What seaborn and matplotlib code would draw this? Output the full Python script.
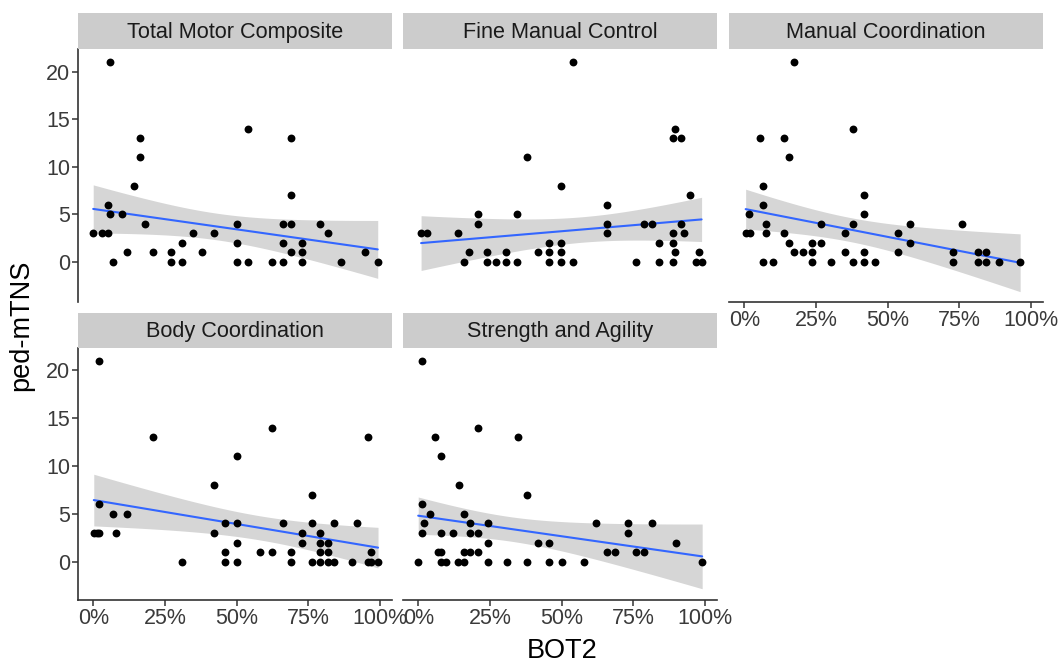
import numpy as np
import pandas as pd
import matplotlib
matplotlib.use("Agg")
import matplotlib.pyplot as plt
import seaborn as sns
from matplotlib.ticker import FuncFormatter

sns.set_theme(style="white")
plt.rcParams['font.family'] = ['Liberation Sans', 'DejaVu Sans']

panels = ["Total Motor Composite", "Fine Manual Control", "Manual Coordination",
          "Body Coordination", "Strength and Agility"]

tmc_x = [6.0, 0, 3.0, 5.1, 5, 5.9, 9.9, 7, 14.2, 16.2, 16.2, 11.7, 18, 20.9, 27.2, 27.2,
         30.9, 30.9, 34.8, 38.1, 42.1, 50.2, 50.2, 50.2, 54.1, 54.1, 62.2, 66, 66, 66,
         69, 69, 69, 69, 72.8, 72.8, 72.8, 79.2, 82, 86.3, 94.9, 99.2]
tmc_y = [21, 3, 3, 3, 6, 5, 5, 0, 8, 11, 13, 1, 4, 1, 1, 0,
         2, 0, 3, 1, 3, 4, 2, 0, 14, 0, 0, 4, 2, 0,
         13, 7, 4, 1, 2, 1, 0, 4, 3, 0, 1, 0]

fmc_x = [1, 3.1, 14, 15.9, 17.8, 20.7, 20.7, 24.1, 24.1, 27, 30.7, 30.7, 34.5, 34.5,
         37.9, 41.8, 45.7, 45.7, 45.7, 49.9, 49.9, 49.9, 49.9, 53.8, 53.8, 65.8, 65.8,
         65.8, 75.8, 78.7, 81.6, 84, 84, 88.8, 88.8, 88.8, 88.8, 89.7, 89.7, 91.7, 91.7,
         92.6, 94.6, 97.9, 97, 98.8]
fmc_y = [3, 3, 3, 0, 1, 5, 4, 1, 0, 0, 1, 0, 5, 0,
         11, 1, 2, 1, 0, 8, 2, 1, 0, 21, 0, 6, 4,
         3, 0, 4, 4, 2, 0, 13, 3, 2, 0, 14, 1, 13, 4,
         3, 7, 1, 0, 0]

mc_x = [0.5, 1.9, 1.6, 5.6, 6.5, 6.5, 6.5, 7.5, 7.5, 9.9, 13.8, 13.8, 15.7, 15.7, 17.5,
        17.5, 20.4, 23.8, 23.8, 23.8, 26.8, 26.8, 30.4, 35, 35, 37.9, 37.9, 37.9, 41.7,
        41.7, 41.7, 41.7, 45.6, 53.6, 53.6, 57.7, 57.7, 72.8, 72.8, 75.9, 81.6, 81.6,
        84.3, 84.3, 88.9, 96.2]
mc_y = [3, 3, 5, 13, 8, 6, 0, 4, 3, 0, 13, 3, 11, 2, 21,
        1, 1, 2, 1, 0, 4, 2, 0, 3, 1, 14, 4, 0, 7,
        5, 1, 0, 0, 3, 1, 4, 2, 1, 0, 4, 1, 0,
        1, 0, 0, 0]

bc_x = [2.1, 0.2, 1.2, 2.1, 2.1, 7, 11.7, 7.9, 20.9, 30.9, 42.1, 42.1, 45.9, 45.9, 45.9,
        50.2, 50.2, 50.2, 50.2, 58, 62.3, 62.3, 66.2, 69.1, 69.1, 72.9, 72.9, 76.2, 76.2,
        76.2, 79.1, 79.1, 79.1, 79.1, 82, 82, 82, 83.8, 83.8, 90.1, 92.1, 95.9, 95.9,
        96.9, 96.9, 99.3]
bc_y = [21, 3, 3, 3, 6, 5, 5, 3, 13, 0, 8, 3, 4, 1, 0,
        11, 4, 2, 0, 1, 14, 1, 4, 1, 0, 3, 2, 7, 4,
        0, 3, 2, 1, 0, 2, 1, 0, 4, 0, 0, 4, 13, 0,
        1, 0, 0]

sa_x = [1.2, 0, 1.2, 1.2, 2.1, 4.1, 5.9, 7.9, 6.8, 7.9, 7.9, 7.9, 9.8, 12.3, 14.1, 13.9,
        16, 16, 16, 18, 18, 18, 20.9, 20.9, 20.9, 24.2, 24.2, 24.2, 30.9, 34.7, 38, 38,
        41.8, 45.5, 45.5, 50.1, 57.7, 61.9, 65.8, 68.7, 73, 73, 75.9, 78.8, 81.6, 89.8, 99]
sa_y = [21, 0, 6, 3, 4, 5, 13, 11, 1, 1, 3, 0, 0, 3, 8, 0,
        5, 1, 0, 4, 3, 1, 14, 3, 1, 4, 2, 0, 0, 13, 7, 0,
        2, 2, 0, 0, 0, 4, 1, 1, 4, 3, 1, 1, 4, 2, 0]

xs = [tmc_x, fmc_x, mc_x, bc_x, sa_x]
ys = [tmc_y, fmc_y, mc_y, bc_y, sa_y]

x_ticks = [0, 25, 50, 75, 100]
y_ticks = [0, 5, 10, 15, 20]

W, H = 1062, 663
fig = plt.figure(figsize=(W / 100, H / 100), dpi=100)

col_left = [78.3, 403.3, 729.3]
pw = 313.5
rows = [(13.3, 49.3, 301.7), (313.3, 348.3, 600.0)]
ylims = [(-4.17, 22.35), (-4.0, 22.3)]

line_col = "#3366FF"
tick_col = "#3A3A3A"
axis_col = "#333333"

for i, name in enumerate(panels):
    r, c = divmod(i, 3)
    st, pt, pb = rows[r]
    x0 = col_left[c]
    ax = fig.add_axes([x0 / W, 1 - pb / H, pw / W, (pb - pt) / H])
    sax = fig.add_axes([x0 / W, 1 - pt / H, pw / W, (pt - st) / H])
    sax.set_facecolor("#CCCCCC")
    for s in sax.spines.values():
        s.set_visible(False)
    sax.set_xticks([]); sax.set_yticks([])
    sax.text(0.5, 0.47, name, ha="center", va="center", fontsize=15.6, color="#1A1A1A",
             transform=sax.transAxes)

    df = pd.DataFrame({"BOT2": xs[i], "ped": ys[i]})
    x = df["BOT2"].to_numpy(float); y = df["ped"].to_numpy(float)
    # analytic 95% confidence band for the linear fit
    n = len(x)
    b1, b0 = np.polyfit(x, y, 1)
    resid = y - (b0 + b1 * x)
    s = np.sqrt(np.sum(resid ** 2) / (n - 2))
    grid = np.linspace(x.min(), x.max(), 80)
    se = s * np.sqrt(1 / n + (grid - x.mean()) ** 2 / np.sum((x - x.mean()) ** 2))
    tval = 2.0167  # approx t(0.975, ~43)
    fit = b0 + b1 * grid
    ax.fill_between(grid, fit - tval * se, fit + tval * se, color="#999999", alpha=0.4,
                    linewidth=0, zorder=1)
    sns.regplot(data=df, x="BOT2", y="ped", ax=ax, ci=None, truncate=True,
                scatter_kws=dict(s=32, color="black", alpha=1, linewidths=0, zorder=3),
                line_kws=dict(color=line_col, lw=1.5, zorder=2))

    ax.set_xlim(-5.2, 104.1)
    ax.set_ylim(*ylims[r])
    ax.set_facecolor("white")
    ax.set_xlabel(""); ax.set_ylabel("")
    for sp in ["top", "right"]:
        ax.spines[sp].set_visible(False)
    show_y = (c == 0)
    show_x = (r == 1) or (i == 2)
    ax.spines["left"].set_visible(show_y)
    ax.spines["bottom"].set_visible(show_x)
    for sp in ["left", "bottom"]:
        ax.spines[sp].set_color(axis_col)
        ax.spines[sp].set_linewidth(1.2)
    ax.set_xticks(x_ticks)
    ax.set_yticks(y_ticks)
    ax.xaxis.set_major_formatter(FuncFormatter(lambda v, p: f"{int(v)}%"))
    ax.tick_params(axis="both", direction="out", length=4, width=1.1, color=axis_col,
                   labelsize=15.5, labelcolor=tick_col, pad=2)
    ax.tick_params(axis="x", bottom=show_x, labelbottom=show_x)
    ax.tick_params(axis="y", left=show_y, labelleft=show_y)

fig.text(562 / W, 1 - 651 / H, "BOT2", ha="center", va="center", fontsize=19.5, color="black")
fig.text(21 / W, 1 - 325 / H, "ped-mTNS", ha="center", va="center", rotation=90,
         fontsize=19.5, color="black")

fig.savefig("out.png", dpi=100)
